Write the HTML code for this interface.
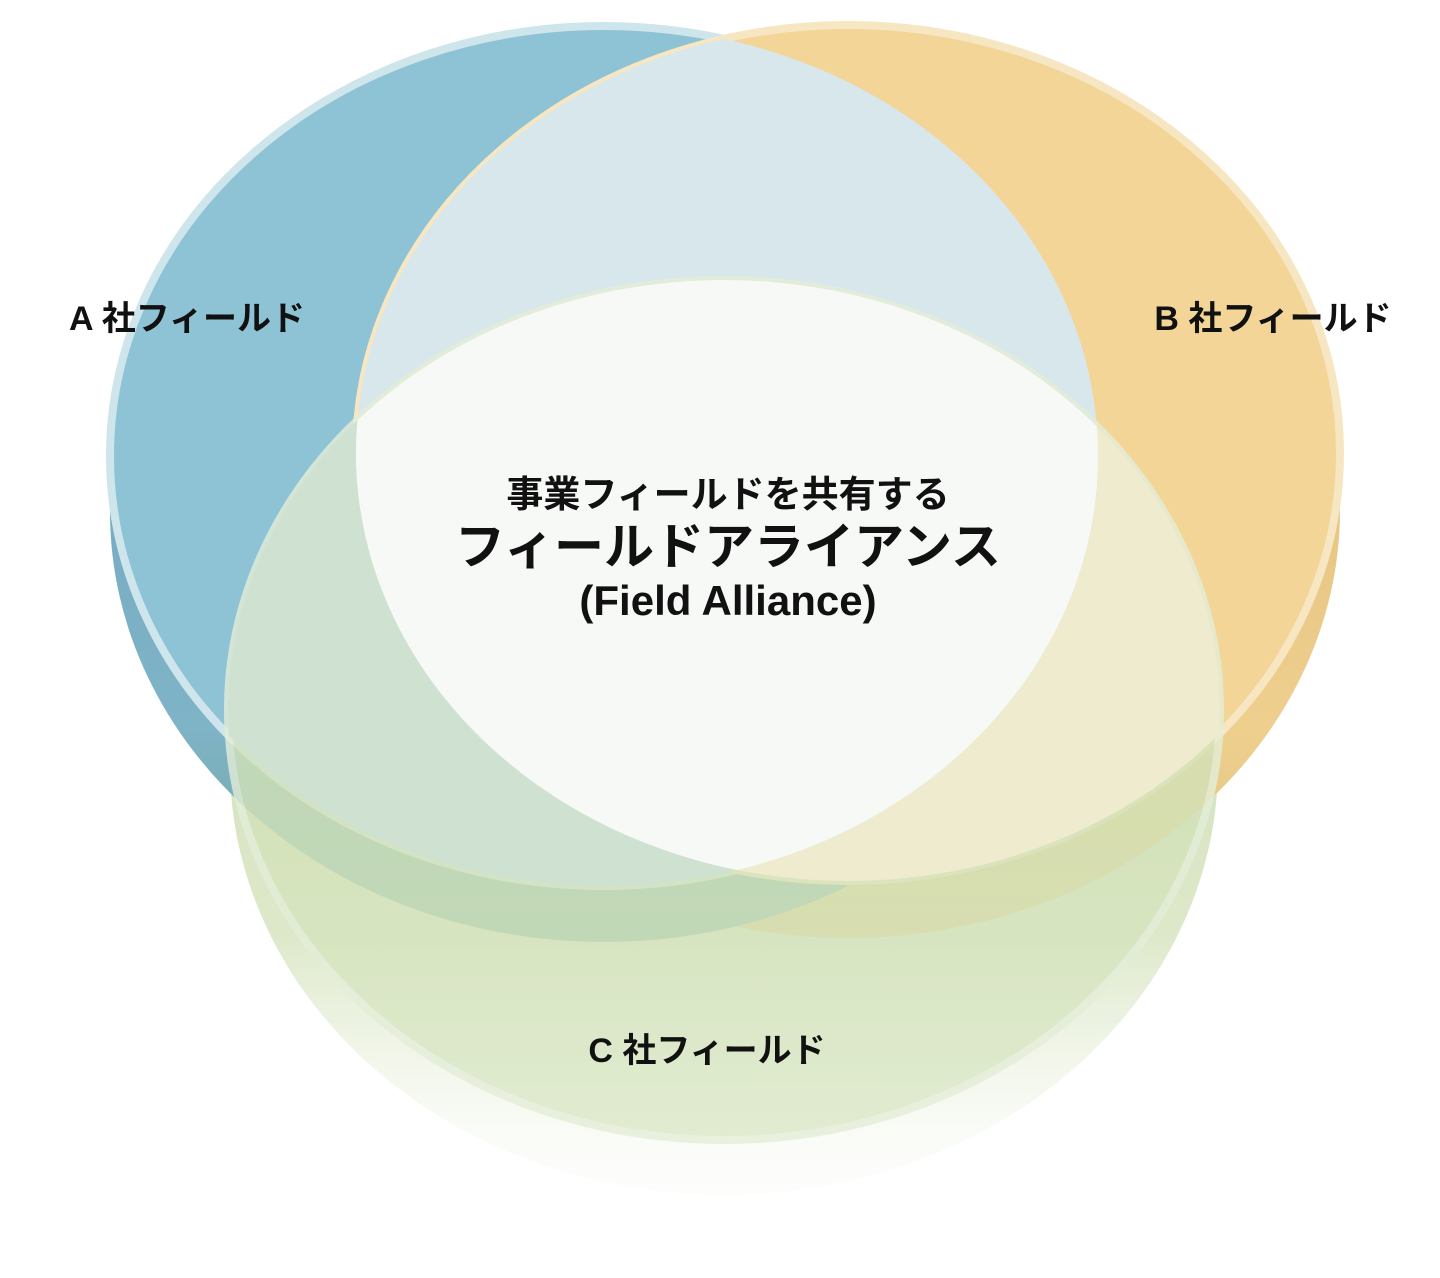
<!DOCTYPE html>
<html><head><meta charset="utf-8"><style>
html,body{margin:0;padding:0;background:#fff;}
svg{display:block;}
text{font-family:"Liberation Sans","Noto Sans CJK JP",sans-serif;font-weight:bold;fill:#111;}
</style></head><body>
<svg width="1440" height="1278" viewBox="0 0 1440 1278" xmlns="http://www.w3.org/2000/svg">
<defs>
<linearGradient id="ga" x1="0" y1="0" x2="0" y2="1"><stop offset="0" stop-color="#6b9fbd"/><stop offset="0.75" stop-color="#7fb3c6"/><stop offset="1" stop-color="#6fa79a"/></linearGradient>
<linearGradient id="gb" x1="0" y1="0" x2="0" y2="1"><stop offset="0" stop-color="#d8b470"/><stop offset="0.75" stop-color="#efcf8e"/><stop offset="1" stop-color="#dcc47e"/></linearGradient>
<linearGradient id="gc" x1="0" y1="0" x2="0" y2="1"><stop offset="0" stop-color="#b7cc95"/><stop offset="0.7" stop-color="#d5e3bd"/><stop offset="1" stop-color="#f5f8ef" stop-opacity="0.2"/></linearGradient>
<linearGradient id="gct" x1="0" y1="0" x2="0" y2="1"><stop offset="0.6" stop-color="#d3e2b8"/><stop offset="1" stop-color="#dbe8c8"/></linearGradient>
<clipPath id="ca"><ellipse cx="604" cy="456" rx="494" ry="430"/></clipPath>
<clipPath id="cb"><ellipse cx="848" cy="453" rx="492" ry="428"/></clipPath>
</defs>
<ellipse cx="724" cy="765" rx="494" ry="430" fill="url(#gc)" opacity="0.8"/>
<ellipse cx="848" cy="510" rx="492" ry="428" fill="url(#gb)"/>
<ellipse cx="604" cy="512" rx="494" ry="430" fill="url(#ga)"/>
<ellipse cx="604" cy="456" rx="494" ry="430" fill="#8ec3d5" stroke="#cfe5ec" stroke-width="8"/>
<ellipse cx="848" cy="453" rx="492" ry="428" fill="#f2d597" stroke="#f7e6c2" stroke-width="8"/>
<g clip-path="url(#ca)"><ellipse cx="848" cy="453" rx="492" ry="428" fill="#d8e7ec"/></g>
<ellipse cx="724" cy="710" rx="496" ry="430" fill="url(#gct)" stroke="#e4eed8" stroke-width="8" opacity="0.8"/>
<g clip-path="url(#ca)"><ellipse cx="724" cy="710" rx="496" ry="430" fill="#cfe2d2"/></g>
<g clip-path="url(#cb)"><ellipse cx="724" cy="710" rx="496" ry="430" fill="#eeebcf"/></g>
<g clip-path="url(#ca)"><g clip-path="url(#cb)"><ellipse cx="724" cy="710" rx="496" ry="430" fill="#f7f9f7"/></g></g>
<text x="187" y="330" font-size="34" text-anchor="middle">A 社フィールド</text>
<text x="1273" y="330" font-size="34" text-anchor="middle">B 社フィールド</text>
<text x="707" y="1062" font-size="34" text-anchor="middle">C 社フィールド</text>
<text x="728" y="507" font-size="37" text-anchor="middle">事業フィールドを共有する</text>
<text x="728" y="564" font-size="50" text-anchor="middle">フィールドアライアンス</text>
<text x="728" y="615" font-size="42" text-anchor="middle">(Field Alliance)</text>
</svg>
</body></html>
